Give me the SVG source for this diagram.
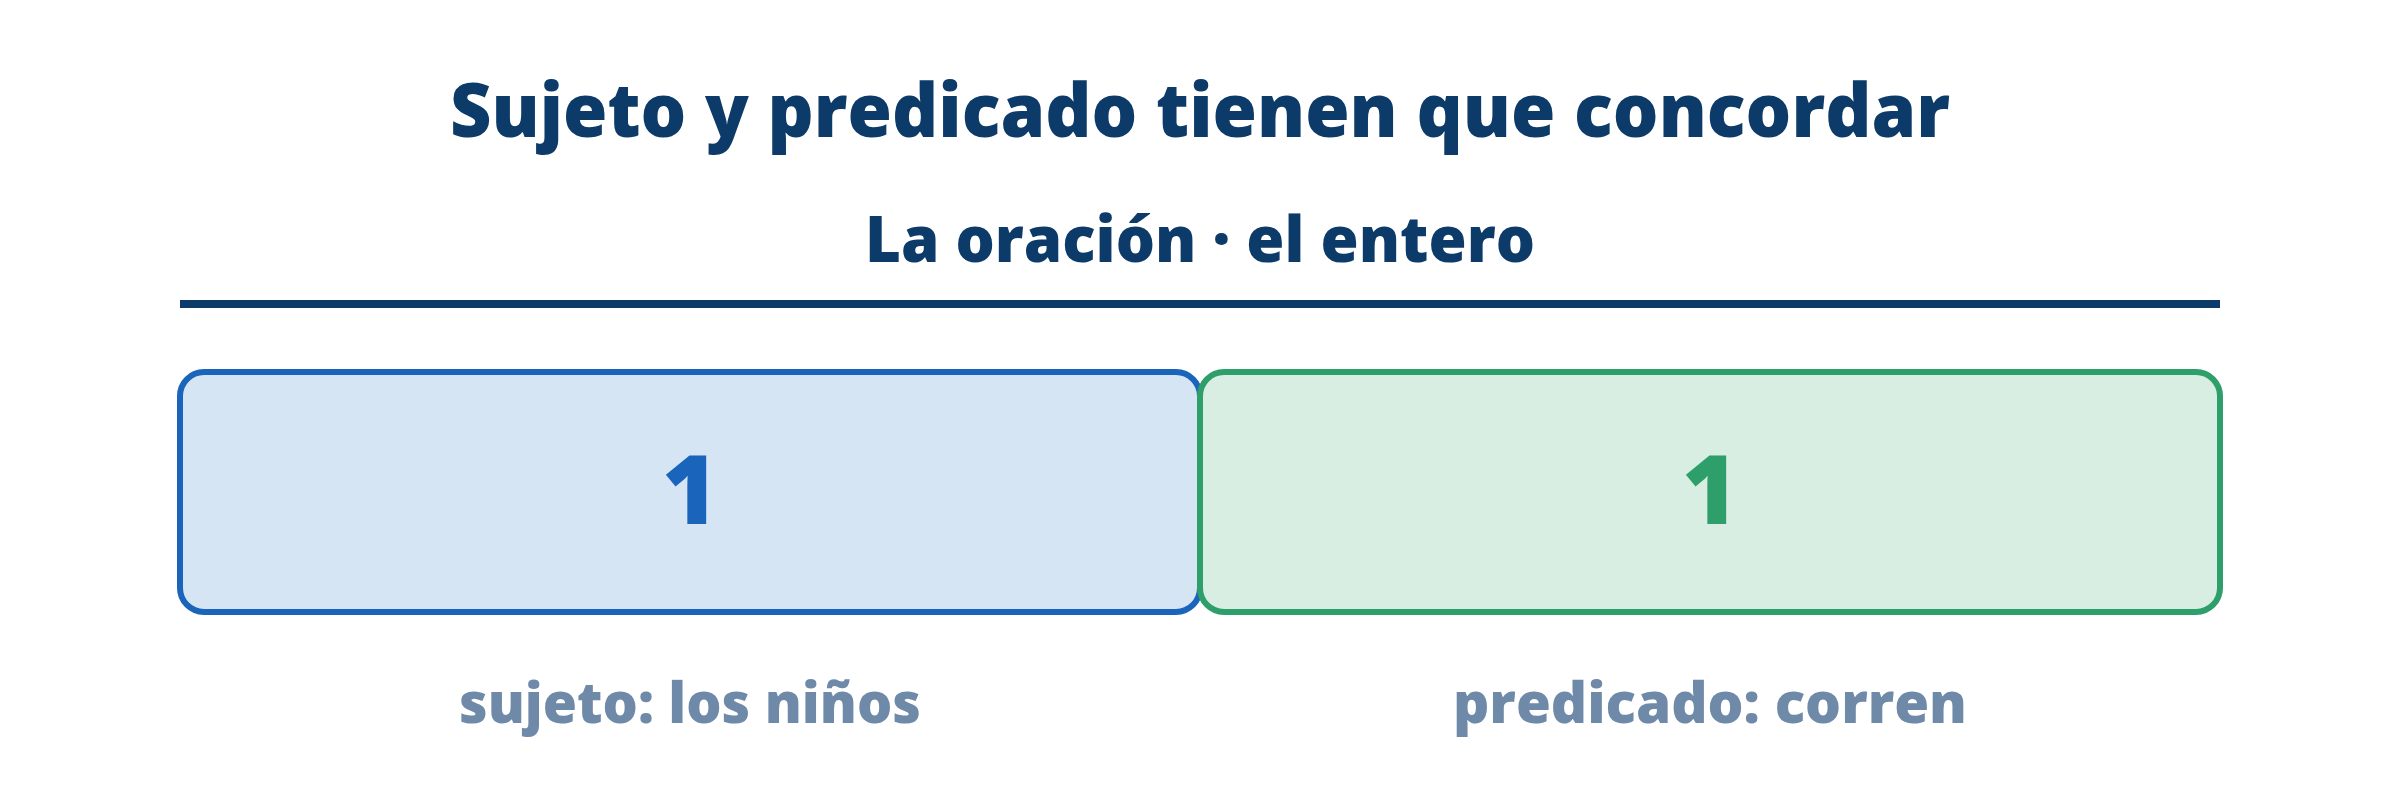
<svg xmlns="http://www.w3.org/2000/svg" width="2400" height="792" viewBox="0 0 2400 792">
  <style>
    text { font-family: "Open Sans", "Liberation Sans", sans-serif; font-weight: 800; text-anchor: middle; }
    .title { font-size: 74px; fill: #0d3b69; }
    .sub { font-size: 64px; fill: #0d3b69; }
    .num { font-size: 96px; }
    .lab { font-size: 56px; fill: #6e8aa8; }
    .box { stroke-width: 6; }
  </style>
  <rect width="2400" height="792" fill="#ffffff"/>
  <g id="header">
    <text class="title" x="1200" y="137" textLength="1500" lengthAdjust="spacingAndGlyphs">Sujeto y predicado tienen que concordar</text>
    <text class="sub" x="1200" y="262" textLength="670" lengthAdjust="spacingAndGlyphs">La oración · el entero</text>
    <rect x="180" y="300" width="2040" height="8" fill="#0d3b69"/>
  </g>
  <g id="sujeto">
    <rect class="box" x="180" y="372" width="1020" height="240" rx="24" fill="#d5e5f3" stroke="#1a64bb"/>
    <text class="num" x="690" y="524" fill="#1a64bb">1</text>
    <text class="lab" x="690" y="723" textLength="462" lengthAdjust="spacingAndGlyphs">sujeto: los niños</text>
  </g>
  <g id="predicado">
    <rect class="box" x="1200" y="372" width="1020" height="240" rx="24" fill="#d9eee3" stroke="#2e9e6b"/>
    <text class="num" x="1710" y="524" fill="#2e9e6b">1</text>
    <text class="lab" x="1710" y="723" textLength="514" lengthAdjust="spacingAndGlyphs">predicado: corren</text>
  </g>
  <g id="connectors"/>
</svg>
